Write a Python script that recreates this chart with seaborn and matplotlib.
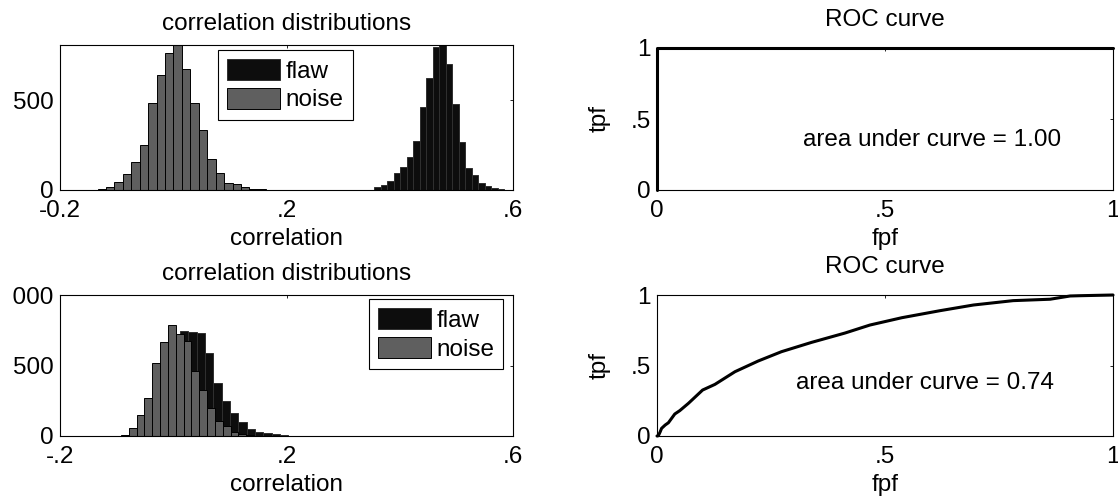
import numpy as np
import pandas as pd
import seaborn as sns
import matplotlib
matplotlib.use("Agg")
import matplotlib.pyplot as plt
from matplotlib.transforms import Bbox, TransformedBbox

# ---------------- data ----------------
# top-left histogram (well separated)
tl_noise_edge0, tl_noise_width = -0.1336, 0.01489
tl_noise_counts = [7, 16, 44, 90, 154, 248, 483, 641, 763, 806,
                   674, 484, 335, 171, 92, 39, 32, 17, 8, 4]
tl_flaw_edge0, tl_flaw_width = 0.3551, 0.01148
tl_flaw_counts = [19, 28, 52, 93, 130, 185, 274, 463, 620, 796,
                  806, 700, 478, 268, 125, 85, 41, 22, 10, 7]

# bottom-left histogram (overlapping)
bl_noise_edge0, bl_noise_width = -0.0923, 0.01383
bl_noise_counts = [7, 59, 147, 267, 515, 664, 787, 721, 674, 461,
                   326, 196, 106, 71, 31, 14, 7, 3, 2, 1]
bl_flaw_edge0, bl_flaw_width = -0.0908, 0.0147
bl_flaw_counts = [5, 40, 120, 250, 430, 600, 700, 747, 740, 728,
                  586, 373, 251, 161, 97, 47, 26, 19, 12, 5]

# ROC curves
tr_fpf = [0.0, 0.0, 1.0]
tr_tpf = [0.0, 1.0, 1.0]
tr_auc = 1.00
br_fpf = [0, 0.003, 0.007, 0.010, 0.018, 0.025, 0.032, 0.039, 0.050, 0.069,
          0.100, 0.127, 0.171, 0.222, 0.273, 0.339, 0.412, 0.467, 0.537,
          0.621, 0.694, 0.781, 0.862, 0.906, 0.928, 1.0]
br_tpf = [0, 0.002, 0.030, 0.054, 0.078, 0.094, 0.125, 0.156, 0.180, 0.232,
          0.326, 0.366, 0.456, 0.532, 0.598, 0.664, 0.730, 0.787, 0.839,
          0.889, 0.929, 0.960, 0.970, 0.993, 0.995, 1.0]
br_auc = 0.74

series_labels = ["flaw", "noise"]
hist_xticks = [-0.2, 0.2, 0.6]
tl_xticklabels = ["-0.2", ".2", ".6"]
bl_xticklabels = ["-.2", ".2", ".6"]
tl_yticks = [0, 500]
bl_yticks = [0, 500, 1000]
roc_ticks = [0, 0.5, 1]
roc_ticklabels = ["0", ".5", "1"]

# ---------------- style ----------------
sns.set_theme(style="white")
FS = 17.5
plt.rcParams["font.family"] = ["Liberation Sans", "DejaVu Sans"]
plt.rcParams["font.size"] = FS
plt.rcParams["axes.labelsize"] = FS
plt.rcParams["axes.titlesize"] = FS
plt.rcParams["axes.linewidth"] = 0.8
plt.rcParams["axes.edgecolor"] = "black"
plt.rcParams["text.color"] = "black"
plt.rcParams["axes.labelcolor"] = "black"
plt.rcParams["xtick.color"] = "black"
plt.rcParams["ytick.color"] = "black"

FLAW_C = "#0d0d0d"
FLAW_EC = "#303030"
NOISE_C = "#5f5f5f"
NOISE_EC = "black"

W, H = 1118, 497
fig = plt.figure(figsize=(W / 100, H / 100), dpi=100)


def px_axes(x0, y0, x1, y1):
    return fig.add_axes([x0 / W, (H - y1) / H, (x1 - x0) / W, (y1 - y0) / H])


ax_tl = px_axes(60, 45, 513, 190)
ax_tr = px_axes(657, 48, 1113, 190)
ax_bl = px_axes(60, 295, 513, 436)
ax_br = px_axes(657, 295, 1113, 436)


def hist(ax, edge0, width, counts, color, ec):
    counts = [float(c) for c in counts]
    edges = [edge0 + width * i for i in range(len(counts) + 1)]
    centers = [0.5 * (edges[i] + edges[i + 1]) for i in range(len(counts))]
    df = pd.DataFrame({"x": centers, "w": counts})
    sns.histplot(data=df, x="x", weights="w", bins=edges, ax=ax, color=color,
                 alpha=1, edgecolor=ec, linewidth=0.7)
    return ax.containers[-1]


def style_common(ax):
    ax.tick_params(direction="in", top=True, right=True, length=2.5,
                   width=0.6, labelsize=FS)
    ax.tick_params(axis="x", pad=7)
    ax.tick_params(axis="y", pad=4.5)
    for s in ax.spines.values():
        s.set_visible(True)
        s.set_color("black")
        s.set_linewidth(0.8)


def legend(ax, handles, loc, anchor):
    lg = ax.legend(handles=handles, labels=series_labels, loc=loc,
                   bbox_to_anchor=anchor, borderaxespad=0, fancybox=False,
                   edgecolor="black", framealpha=1, handlelength=2.17,
                   handleheight=0.96, handletextpad=0.25, labelspacing=0.2,
                   borderpad=0.36, fontsize=FS)
    lg.get_frame().set_linewidth(0.8)


# top-left
h_flaw = hist(ax_tl, tl_flaw_edge0, tl_flaw_width, tl_flaw_counts, FLAW_C, FLAW_EC)
h_noise = hist(ax_tl, tl_noise_edge0, tl_noise_width, tl_noise_counts, NOISE_C, NOISE_EC)
ax_tl.set_xlim(-0.2, 0.6)
ax_tl.set_ylim(0, 806)
ax_tl.set_xticks(hist_xticks)
ax_tl.set_xticklabels(tl_xticklabels)
ax_tl.set_yticks(tl_yticks)
ax_tl.set_yticklabels([str(v) for v in tl_yticks])
ax_tl.set_ylabel("")
ax_tl.set_xlabel("correlation", labelpad=4.3, fontsize=FS)
ax_tl.set_title("correlation distributions", pad=10.8, fontsize=FS)
style_common(ax_tl)
legend(ax_tl, [h_flaw, h_noise], "upper left", (0.3494, 0.9655))

# bottom-left
h_flaw = hist(ax_bl, bl_flaw_edge0, bl_flaw_width, bl_flaw_counts, FLAW_C, FLAW_EC)
h_noise = hist(ax_bl, bl_noise_edge0, bl_noise_width, bl_noise_counts, NOISE_C, NOISE_EC)
ax_bl.set_xlim(-0.2, 0.6)
ax_bl.set_ylim(0, 1000)
ax_bl.set_xticks(hist_xticks)
ax_bl.set_xticklabels(bl_xticklabels)
ax_bl.set_yticks(bl_yticks)
ax_bl.set_yticklabels([str(v) for v in bl_yticks])
ax_bl.set_ylabel("")
ax_bl.set_xlabel("correlation", labelpad=4.3, fontsize=FS)
ax_bl.set_title("correlation distributions", pad=10.8, fontsize=FS)
style_common(ax_bl)
legend(ax_bl, [h_flaw, h_noise], "upper right", (0.979, 0.9695))


def roc(ax, fpf, tpf, auc, tx, ty):
    sns.lineplot(x=fpf, y=tpf, sort=False, estimator=None, ax=ax,
                 color="black", linewidth=2.2, clip_on=False)
    ax.set_xlim(0, 1)
    ax.set_ylim(0, 1)
    ax.set_xticks(roc_ticks)
    ax.set_xticklabels(roc_ticklabels)
    ax.set_yticks(roc_ticks)
    ax.set_yticklabels(roc_ticklabels)
    ax.set_xlabel("fpf", labelpad=4.3, fontsize=FS)
    ax.set_ylabel("tpf", labelpad=14.5, fontsize=FS)
    ax.set_title("ROC curve", pad=15.5, fontsize=FS)
    ax.text(tx, ty, f"area under curve = {auc:.2f}", ha="left",
            va="center", fontsize=FS)
    style_common(ax)


roc(ax_tr, tr_fpf, tr_tpf, tr_auc, 0.32, 0.35)
roc(ax_br, br_fpf, br_tpf, br_auc, 0.305, 0.376)

# the "1" of the 1000 label is cut off by the figure edge in the original
fig.canvas.draw()
lab = ax_bl.get_yticklabels()[-1]
lab.set_clip_on(True)
lab.set_clip_box(TransformedBbox(Bbox([[12.5 / W, 0], [1, 1]]), fig.transFigure))

fig.savefig("out.png", dpi=100)
